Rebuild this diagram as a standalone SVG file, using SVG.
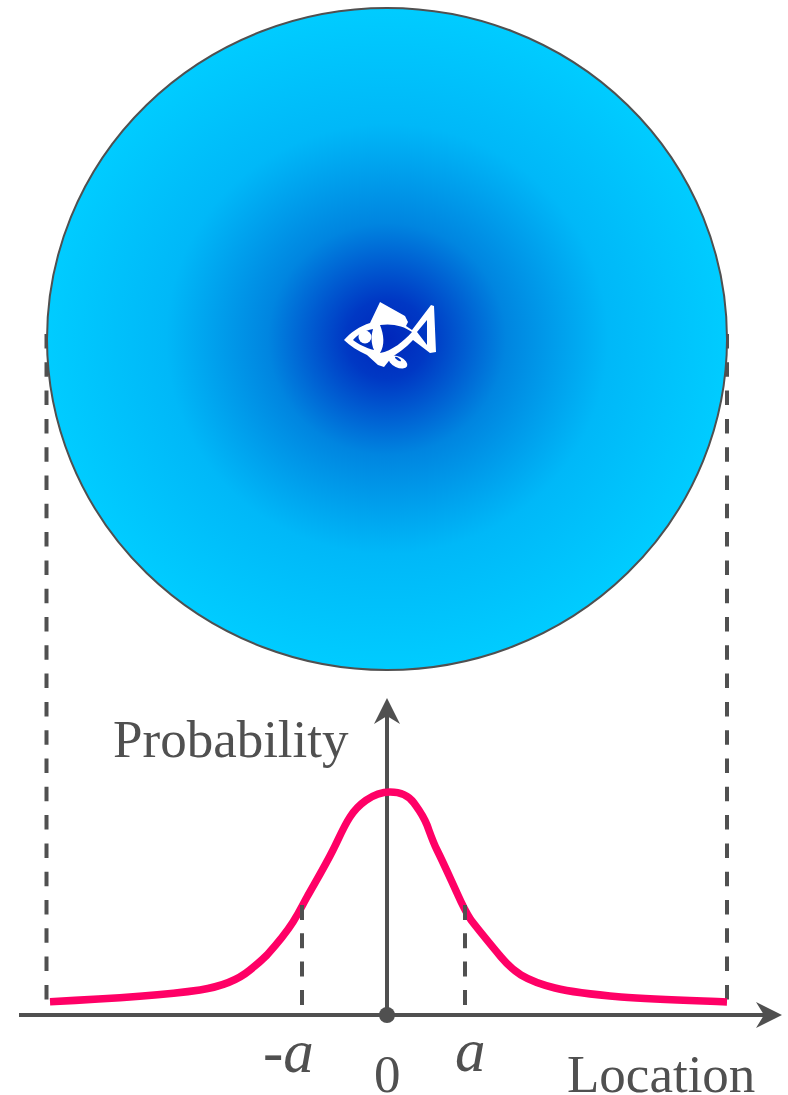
<svg xmlns="http://www.w3.org/2000/svg" width="788" height="1095" viewBox="0 0 788 1095">
<style>
.ax{fill:none;stroke:#505050;stroke-width:4}
.dash{fill:none;stroke:#505050;stroke-width:4;stroke-dasharray:14.500 13.800}
.tick{fill:none;stroke:#505050;stroke-width:4;stroke-dasharray:15 13.300}
.lbl{font-family:"Liberation Serif","Times New Roman",serif;fill:#505050;font-size:53px}
.it{font-style:italic;font-size:61px}
.fw{fill:#fff;stroke:none}
</style>
<defs>
<radialGradient id="water" cx="50%" cy="50%" r="50%">
<stop offset="0" stop-color="#0026bb"/>
<stop offset="0.12" stop-color="#0038c4"/>
<stop offset="0.35" stop-color="#0085e0"/>
<stop offset="0.65" stop-color="#00b8f8"/>
<stop offset="1" stop-color="#00ccff"/>
</radialGradient>
</defs>
<rect width="788" height="1095" fill="#fff"/>
<g id="connectors">
<path class="dash" d="M46.500 334V1015"/>
<path class="dash" d="M727 334V1015"/>
<path class="ax" d="M19 1015H775"/>
<path class="ax" d="M387 1015V705"/>
<path d="M782 1015L756 1002L764 1015L756 1028Z" fill="#505050"/>
<path d="M387 698L374 724L387 716L400 724Z" fill="#505050"/>
</g>
<g id="pond">
<ellipse cx="387" cy="339" rx="340" ry="331" fill="url(#water)" stroke="#505050" stroke-width="2"/>
</g>
<g id="fish">
<path class="fw" fill-rule="evenodd" d="M380 302L405 316L408 322L406 326L412 330L431 305L434 306L436 352L430 353L413 340C406 348 398 353 392 357L384 367L378 365L367 355C358 351 350 346 344 340C350 333 360 326 370 323ZM427 320L417 332L427 345ZM373 329C364 331 357 335 353 340C358 344 366 348 374 350C371 343 371 336 373 329ZM380 325C384 335 385 345 380 353C392 351 404 341 412 332C404 326 392 323 380 325Z"/>
<ellipse class="fw" cx="398" cy="362" rx="10" ry="5.500" transform="rotate(25 398 362)"/>
<ellipse cx="398" cy="359" rx="3.500" ry="1.200" fill="#0034c2" transform="rotate(35 398 359)"/>
<circle class="fw" cx="365" cy="337" r="6.500"/>
</g>
<g id="curve">
<path fill="none" stroke="#ff0066" stroke-width="7.500" d="M50 1001.700C95 999.500 155 996.500 200 990C222 986.500 238 980 250 970C255 966 261 961 267 955C276 945 286 933 293 922C300 911 303 904 307 897C316 881 325 866 333 850C339 838 344 826 350 817C357 806 372 792 390 792C401 792 409 796 414 803C419 810 423 815 427 825C430 833 433 842 437 850C444 864 451 880 457 893C461 902 465 911 471 920C481 933 491 945 501 957C507 964 513 970 521 975C531 981 543 985 555 988C575 993 598 995 621 997C655 999.500 690 1000.500 727 1002"/>
</g>
<g id="ticks">
<path class="tick" d="M302 905V1005.500"/>
<path class="tick" d="M465 905V1005.500"/>
</g>
<g id="labels">
<text class="lbl" x="113" y="757">Probability</text>
<text class="lbl it" x="263" y="1072">-a</text>
<text class="lbl" x="374" y="1092">0</text>
<text class="lbl it" x="455" y="1071">a</text>
<text class="lbl" x="567" y="1092">Location</text>
</g>
<g id="origin">
<circle cx="387" cy="1015" r="8" fill="#505050"/>
</g>
</svg>
